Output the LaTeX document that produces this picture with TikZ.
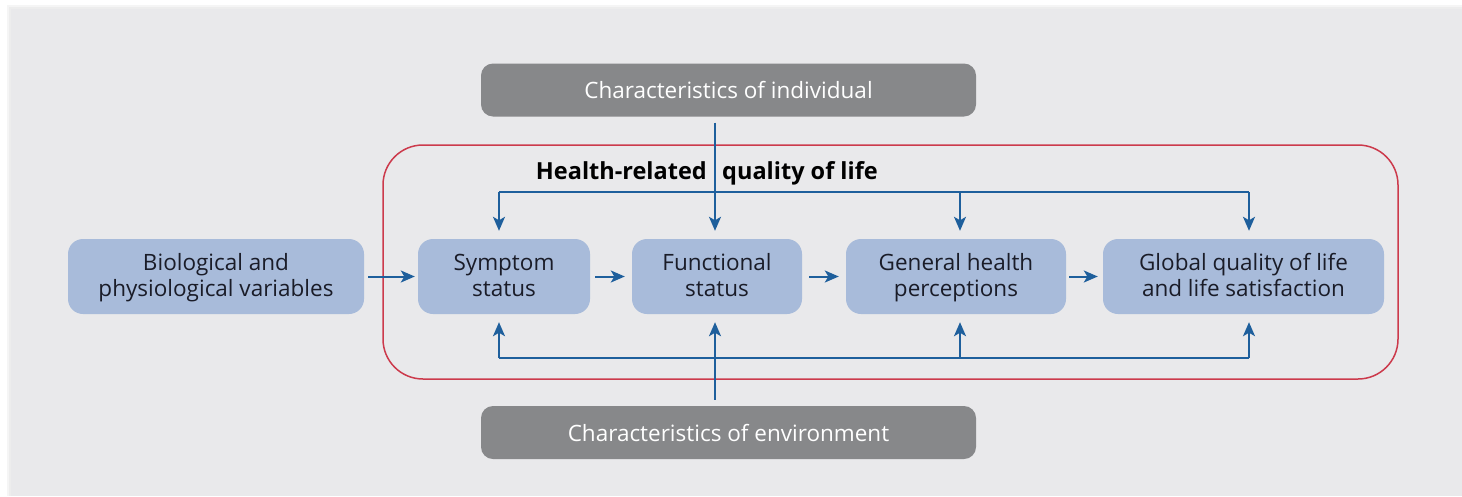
\documentclass[tikz,border=0pt]{standalone}
\usepackage{fontspec}
\setmainfont{Open Sans}
\usetikzlibrary{arrows.meta,calc}
\definecolor{panel}{HTML}{E9E9EB}
\definecolor{bluebox}{HTML}{A8BBDA}
\definecolor{arrowblue}{HTML}{1E5F9C}
\definecolor{redline}{HTML}{CC3A4C}
\definecolor{graybox}{HTML}{87888A}
\definecolor{darktext}{HTML}{1A1C28}
\newcommand{\twolines}[2]{\rule{0pt}{22.2pt}#1\\#2\strut}
\tikzset{
  bbox/.style={rectangle, rounded corners=15pt, fill=bluebox, minimum height=75pt,
    align=center, text=darktext, font=\fontsize{22.5}{26}\selectfont, inner sep=0pt},
  gbox/.style={rectangle, rounded corners=12pt, fill=graybox, minimum width=495pt,
    minimum height=53pt, text=white, font=\fontsize{22.5}{26}\selectfont, inner sep=0pt},
  arr/.style={draw=arrowblue, line width=2pt, -{Stealth[length=14pt,width=12pt,inset=3.5pt]}},
  bus/.style={draw=arrowblue, line width=2pt},
  ttl/.style={font=\bfseries\fontsize{23.5}{28}\selectfont, inner sep=0pt},
}
\begin{document}
\begin{tikzpicture}[x=1pt,y=-1pt]
\useasboundingbox (0,0) rectangle (1462,496);
\fill[white] (0,0) rectangle (1462,496);
\fill[black!4] (7,5) rectangle (1462,496);
\fill[black!7] (9,7) rectangle (1462,496);
\fill[panel] (11,9) rectangle (1462,496);

% red frame
\draw[redline, line width=1.5pt, rounded corners=40pt] (383,145) rectangle (1398,379);

% title
\node[ttl, anchor=base east] (t1) at (707,179) {Health-related};
\node[ttl, anchor=base west] (t2) at (722,179) {quality of life};

% boxes
\node[bbox, minimum width=296pt] (bio) at (216,276.5) {\twolines{Biological and}{physiological variables}};
\node[bbox, minimum width=172pt] (sym) at (504,276.5) {\twolines{Symptom}{status}};
\node[bbox, minimum width=170pt] (fun) at (717,276.5) {\twolines{Functional}{status}};
\node[bbox, minimum width=220pt] (gen) at (956,276.5) {\twolines{General health}{perceptions}};
\node[bbox, minimum width=281pt] (glo) at (1243.5,276.5) {\twolines{Global quality of life}{and life satisfaction}};

\node[gbox] (ind) at (728.5,90) {Characteristics of individual};
\node[gbox] (env) at (728.5,432.5) {Characteristics of environment};

% bus coordinates
\coordinate (ts) at (499,192);
\coordinate (tg) at (960,192);
\coordinate (tq) at (1249,192);
\coordinate (bs) at (499,358);
\coordinate (bg) at (960,358);
\coordinate (bq) at (1249,358);

% top bus
\draw[bus] (ts) -- (tq);
\draw[arr, shorten >=8pt] (ts) -- (ts |- sym.north);
\draw[arr, shorten >=8pt] (tg) -- (tg |- gen.north);
\draw[arr, shorten >=8pt] (tq) -- (tq |- glo.north);
% bottom bus
\draw[bus] (bs) -- (bq);
\draw[arr, shorten >=8pt] (bs) -- (bs |- sym.south);
\draw[arr, shorten >=8pt] (bg) -- (bg |- gen.south);
\draw[arr, shorten >=8pt] (bq) -- (bq |- glo.south);

% individual / environment
\draw[arr, shorten <=6pt, shorten >=8pt] (ind.south -| 715,0) -- (fun.north -| 715,0);
\draw[arr, shorten <=6pt, shorten >=8pt] (env.north -| 715,0) -- (fun.south -| 715,0);

% chain
\draw[arr, shorten <=4pt, shorten >=3pt] (bio) -- (sym);
\draw[arr, shorten <=5pt, shorten >=7pt] (sym) -- (fun);
\draw[arr, shorten <=7pt, shorten >=7pt] (fun) -- (gen);
\draw[arr, shorten <=3pt, shorten >=5pt] (gen) -- (glo);
\end{tikzpicture}
\end{document}
